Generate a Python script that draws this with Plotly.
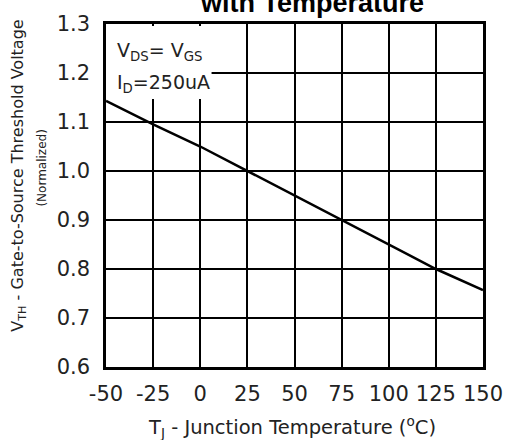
import plotly.graph_objects as go

temps = [-50, -25, 0, 25, 50, 75, 100, 125, 150]
vth_norm = [1.143, 1.095, 1.05, 1.0, 0.95, 0.9, 0.85, 0.8, 0.757]
x_ticks = [-50, -25, 0, 25, 50, 75, 100, 125, 150]
y_ticks = [0.6, 0.7, 0.8, 0.9, 1.0, 1.1, 1.2, 1.3]

ARIAL = "Liberation Sans, Arial, sans-serif"
WIDE = "DejaVu Sans, Verdana, sans-serif"

L, R, T, B = 106, 487, 19, 367


def px(xp):
    return (xp - L) / (R - L)


def py(yp):
    return 1 - (yp - T) / (B - T)


fig = go.Figure()
fig.add_trace(go.Scatter(x=temps, y=vth_norm, mode="lines",
                         line=dict(color="black", width=2.5), showlegend=False))

fig.add_shape(type="rect", xref="x", yref="y", x0=-50, x1=6, y0=1.147, y1=1.296,
              fillcolor="white", line=dict(width=0), layer="between")

axis_common = dict(showgrid=True, gridcolor="black", gridwidth=2,
                   showline=True, linecolor="black", linewidth=2.5, mirror=True,
                   ticks="", zeroline=False,
                   tickfont=dict(family=WIDE, size=21, color="#222"))

fig.update_xaxes(range=[-50, 150], tickvals=x_ticks,
                 ticktext=[str(v) for v in x_ticks], ticklabelstandoff=6,
                 **axis_common)
fig.update_yaxes(range=[0.6, 1.3], tickvals=y_ticks,
                 ticktext=[f"{v:.1f}" for v in y_ticks], ticklabelstandoff=9,
                 **axis_common)

annots = [
    dict(text="V<sub>DS</sub>= V<sub>GS</sub>", x=115, y=47),
    dict(text="I<sub>D</sub>=250uA", x=115, y=79),
]
for a in annots:
    fig.add_annotation(text=a["text"], xref="paper", yref="paper",
                       x=px(a["x"]), y=py(a["y"]),
                       xanchor="left", yanchor="middle", showarrow=False,
                       font=dict(family=WIDE, size=19, color="#222"))

# Title (partially cut at the top)
fig.add_annotation(text="<b>with Temperature</b>", xref="paper", yref="paper",
                   x=px(314), y=1, xanchor="center", yanchor="bottom",
                   yshift=4, showarrow=False,
                   font=dict(family=ARIAL, size=27, color="black"))

# Y-axis title lines
fig.add_annotation(text="V<sub>TH</sub> - Gate-to-Source Threshold Voltage",
                   xref="paper", yref="paper", x=px(18), y=py(173),
                   xanchor="center", yanchor="middle",
                   textangle=-90, showarrow=False,
                   font=dict(family=WIDE, size=16, color="#222"))
fig.add_annotation(text="(Normalized)",
                   xref="paper", yref="paper", x=px(41), y=py(165),
                   xanchor="center", yanchor="middle",
                   textangle=-90, showarrow=False,
                   font=dict(family=WIDE, size=12, color="#222"))

# X-axis title
fig.add_annotation(text="T<sub>J</sub> - Junction Temperature (<sup>o</sup>C)",
                   xref="paper", yref="paper", x=px(294), y=py(428),
                   xanchor="center", yanchor="middle",
                   showarrow=False, font=dict(family=WIDE, size=19.5, color="#222"))

fig.update_layout(width=515, height=440, margin=dict(l=L, r=515 - R, t=T, b=440 - B),
                  plot_bgcolor="white", paper_bgcolor="white")

fig.write_html("out.html", config={"displayModeBar": False},
               post_script="document.body.style.margin='0';document.body.style.padding='0';")
